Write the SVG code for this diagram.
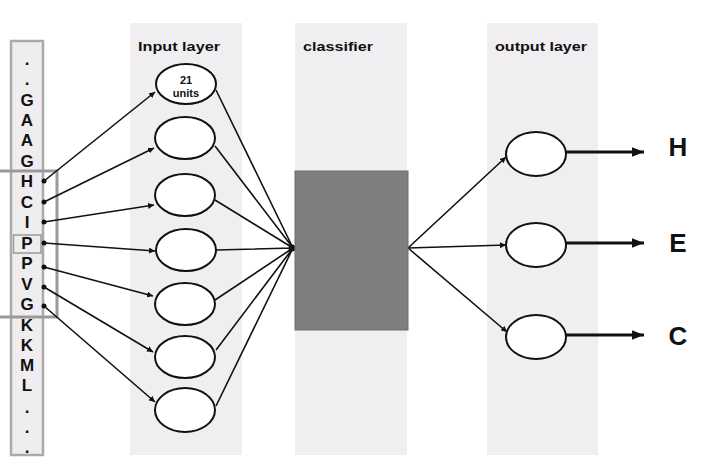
<svg xmlns="http://www.w3.org/2000/svg" width="702" height="465" viewBox="0 0 702 465">
<style>
.col{fill:#f0eef1}
.hdr{font-family:"Liberation Sans",Arial,sans-serif;font-weight:bold;font-size:13px;fill:#111;text-anchor:middle}
.unit{font-family:"Liberation Sans",Arial,sans-serif;font-weight:bold;font-size:11px;fill:#111;text-anchor:middle}
.seq{font-family:"Liberation Sans",Arial,sans-serif;font-weight:bold;font-size:17px;fill:#111;text-anchor:middle}
.big{font-family:"Liberation Sans",Arial,sans-serif;font-weight:bold;font-size:26px;fill:#111;text-anchor:middle}
.node{fill:#fff;stroke:#111;stroke-width:2}
.thin{stroke:#111;stroke-width:1.6;fill:none}
.thick{stroke:#111;stroke-width:3;fill:none}
</style>
<defs>
<marker id="a" viewBox="0 0 10 10" refX="10" refY="5" markerWidth="6" markerHeight="6" markerUnits="userSpaceOnUse" orient="auto"><path d="M0,0L10,5L0,10z" fill="#111"/></marker>
<marker id="b" viewBox="0 0 10 10" refX="10" refY="5" markerWidth="16" markerHeight="12" markerUnits="userSpaceOnUse" orient="auto"><path d="M0,1L10,5L0,9z" fill="#111"/></marker>
</defs>
<rect width="702" height="465" fill="#fff"/>
<g id="columns">
<rect class="col" x="130" y="23" width="112" height="432"/>
<rect class="col" x="295" y="23" width="112" height="432"/>
<rect class="col" x="487" y="23" width="111" height="432"/>
<text class="hdr" x="179" y="51" textLength="82" lengthAdjust="spacingAndGlyphs">Input layer</text>
<text class="hdr" x="338" y="51" textLength="70" lengthAdjust="spacingAndGlyphs">classifier</text>
<text class="hdr" x="541" y="51" textLength="92" lengthAdjust="spacingAndGlyphs">output layer</text>
</g>
<g id="sequence">
<rect x="11" y="41" width="32" height="414" fill="#efedf0" stroke="#aaa" stroke-width="2.5"/>
<text class="seq" x="27" y="65">.</text>
<text class="seq" x="27" y="85">.</text>
<text class="seq" x="27" y="106">G</text>
<text class="seq" x="27" y="126">A</text>
<text class="seq" x="27" y="146">A</text>
<text class="seq" x="27" y="167">G</text>
<text class="seq" x="27" y="187">H</text>
<text class="seq" x="27" y="208">C</text>
<text class="seq" x="27" y="228">I</text>
<text class="seq" x="27" y="249">P</text>
<text class="seq" x="27" y="269">P</text>
<text class="seq" x="27" y="290">V</text>
<text class="seq" x="27" y="310">G</text>
<text class="seq" x="27" y="331">K</text>
<text class="seq" x="27" y="351">K</text>
<text class="seq" x="27" y="371">M</text>
<text class="seq" x="27" y="391">L</text>
<text class="seq" x="27" y="413">.</text>
<text class="seq" x="27" y="433">.</text>
<text class="seq" x="27" y="453">.</text>
<rect x="-5" y="171" width="62" height="146" fill="none" stroke="#999" stroke-width="3"/>
<rect x="13.5" y="235" width="27.5" height="18" fill="none" stroke="#999" stroke-width="1.5"/>
</g>
<g id="connectors">
<g fill="#111">
<circle cx="44" cy="181" r="2.5"/><circle cx="44" cy="202" r="2.5"/><circle cx="44" cy="222" r="2.5"/><circle cx="44" cy="243" r="2.5"/><circle cx="44" cy="267" r="2.5"/><circle cx="44" cy="287" r="2.5"/><circle cx="44" cy="306" r="2.5"/>
</g>
<path class="thin" marker-end="url(#a)" d="M44,181L155,92"/>
<path class="thin" marker-end="url(#a)" d="M44,202L154,148"/>
<path class="thin" marker-end="url(#a)" d="M44,222L154,205"/>
<path class="thin" marker-end="url(#a)" d="M44,243L155,251"/>
<path class="thin" marker-end="url(#a)" d="M44,267L153,296"/>
<path class="thin" marker-end="url(#a)" d="M44,287L153,352"/>
<path class="thin" marker-end="url(#a)" d="M44,306L155,402"/>
<path class="thin" d="M216,90L293,248M215,146L293,248M215,200L293,248M216,250L293,248M215,300L293,248M216,350L293,248M216,406L293,248"/>
<circle cx="292" cy="248" r="3.5" fill="#111"/>
<path class="thin" marker-end="url(#a)" d="M408,248L506,157"/>
<path class="thin" marker-end="url(#a)" d="M408,248L506,245"/>
<path class="thin" marker-end="url(#a)" d="M408,248L507,332"/>
<path class="thick" marker-end="url(#b)" d="M566,152L644,152"/>
<path class="thick" marker-end="url(#b)" d="M566,243L644,243"/>
<path class="thick" marker-end="url(#b)" d="M566,335L644,335"/>
</g>
<g id="in1"><ellipse class="node" cx="186" cy="84" rx="30" ry="20"/><text class="unit" x="186" y="84">21</text><text class="unit" x="186" y="97">units</text></g>
<g id="in2"><ellipse class="node" cx="185" cy="138" rx="30" ry="21"/></g>
<g id="in3"><ellipse class="node" cx="185" cy="195" rx="30" ry="21"/></g>
<g id="in4"><ellipse class="node" cx="186" cy="250" rx="30" ry="21"/></g>
<g id="in5"><ellipse class="node" cx="185" cy="304" rx="30" ry="21"/></g>
<g id="in6"><ellipse class="node" cx="185" cy="357" rx="30" ry="21"/></g>
<g id="in7"><ellipse class="node" cx="185" cy="410" rx="30" ry="22"/></g>
<g id="classifier"><rect x="295" y="171" width="113" height="159" fill="#7f7f7f" stroke="#6f6f6f" stroke-width="1"/></g>
<g id="outH"><ellipse class="node" cx="536" cy="154" rx="30" ry="22"/></g>
<g id="outE"><ellipse class="node" cx="536" cy="245" rx="30" ry="22"/></g>
<g id="outC"><ellipse class="node" cx="536" cy="337" rx="30" ry="22"/></g>
<g id="labels">
<text class="big" x="678" y="156">H</text>
<text class="big" x="678" y="252">E</text>
<text class="big" x="678" y="345">C</text>
</g>
</svg>
